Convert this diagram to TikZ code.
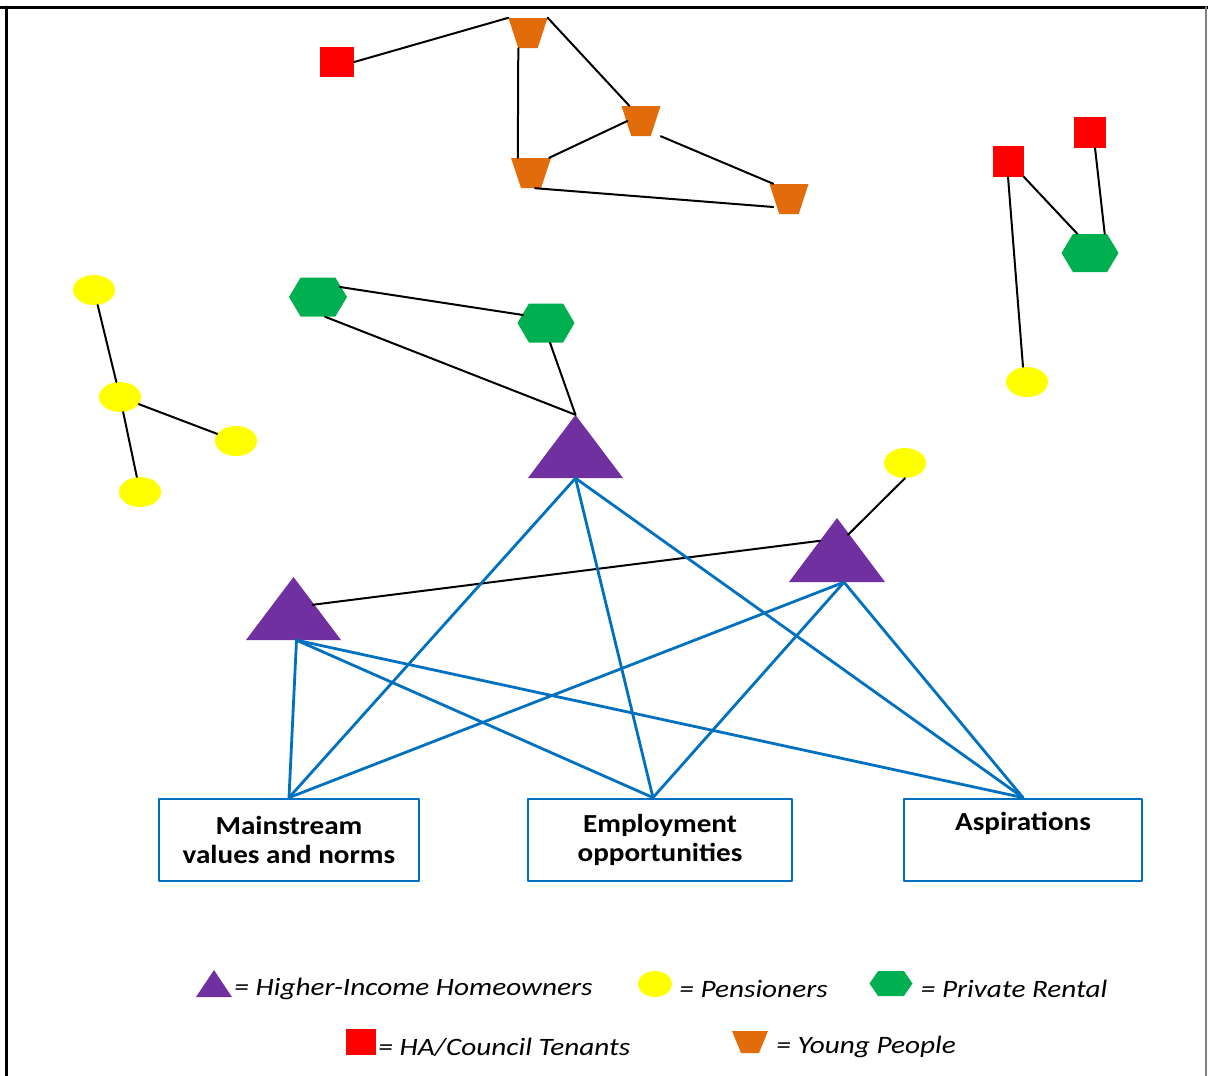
\documentclass[tikz,border=0pt]{standalone}
\usepackage{fontspec}
\setmainfont{Carlito}
\newfontfamily\boxfont[FakeStretch=1.12]{Carlito}
\newfontfamily\legfont[FakeStretch=1.17]{Carlito}
\usetikzlibrary{shapes.geometric,positioning}
\definecolor{hopurple}{HTML}{7030A0}
\definecolor{penyellow}{HTML}{FFFF00}
\definecolor{prgreen}{HTML}{00B050}
\definecolor{htred}{HTML}{FF0000}
\definecolor{yporange}{HTML}{E36C0A}
\definecolor{linkblue}{HTML}{0070C0}
\begin{document}
\begin{tikzpicture}[x=1pt,y=-1pt, line join=round, line cap=round,
	every node/.style={inner sep=0pt},
	tri/.style 2 args={minimum width=#1, minimum height=#2, path picture={
		\fill[hopurple] (path picture bounding box.north) -- (path picture bounding box.south east) -- (path picture bounding box.south west) -- cycle;}},
	yp/.style 2 args={minimum width=#1, minimum height=#2, path picture={
		\fill[yporange] (path picture bounding box.north west) -- (path picture bounding box.north east) -- ([xshift=-#1/4]path picture bounding box.south east) -- ([xshift=#1/4]path picture bounding box.south west) -- cycle;}},
	pr/.style 2 args={minimum width=#1, minimum height=#2, path picture={
		\fill[prgreen] (path picture bounding box.west) -- ([xshift=#1/5]path picture bounding box.north west) -- ([xshift=-#1/5]path picture bounding box.north east) -- (path picture bounding box.east) -- ([xshift=-#1/5]path picture bounding box.south east) -- ([xshift=#1/5]path picture bounding box.south west) -- cycle;}},
	sq/.style 2 args={fill=htred, minimum width=#1, minimum height=#2},
	pen/.style 2 args={ellipse, fill=penyellow, minimum width=#1, minimum height=#2},
	tie/.style={line width=2pt},
	link/.style={linkblue, line width=2.8pt},
	catbox/.style={draw=linkblue, line width=2.8pt, align=center, font=\boxfont\fontsize{26}{29}\selectfont\bfseries},
	legtext/.style={font=\legfont\fontsize{25}{28}\selectfont\itshape, yshift=-5pt}]
	\useasboundingbox (0,0) rectangle (1208,1076);
	% frame
	\draw[line width=3pt] (0,7) -- (1208,7);
	\draw[line width=3pt] (6,7) -- (6,1076);
	\draw[gray, line width=2pt] (1206,7) -- (1206,1076);
	% young people and tenants
	\node[sq={34}{30}] (r1) at (337,62) {};
	\node[yp={39}{30}] (y1) at (528,33) {};
	\node[yp={39}{30}] (y2) at (641,121) {};
	\node[yp={40}{30}] (y3) at (531,173) {};
	\node[yp={39}{30}] (y4) at (789,199) {};
	\draw[tie] (r1.east) -- (y1.north west);
	\draw[tie] (y1.north east) -- ([xshift=8]y2.north west);
	\draw[tie] ([xshift=10]y1.south west) -- ([xshift=7]y3.north west);
	\draw[tie] ([xshift=6]y2.west) -- ([xshift=-2]y3.north east);
	\draw[tie] (y2.south east) -- ([xshift=4]y4.north west);
	\draw[tie] ([xshift=4]y3.south) -- ([xshift=4,yshift=-8]y4.west);
	% right cluster
	\node[sq={31}{31}] (r2) at (1008,161) {};
	\node[sq={32}{31}] (r3) at (1090,132) {};
	\node[pr={57}{38}] (h3) at (1090,253) {};
	\node[pen={42}{30}] (p6) at (1027,382) {};
	\draw[tie] (r2.south east) -- ([xshift=16]h3.north west);
	\draw[tie] ([xshift=5]r3.south) -- ([xshift=-14]h3.north east);
	\draw[tie] (r2.south) -- ([xshift=-4]p6.north);
	% pensioners
	\node[pen={42}{30}] (p1) at (94,290) {};
	\node[pen={42}{30}] (p2) at (120,397) {};
	\node[pen={42}{30}] (p3) at (236,441) {};
	\node[pen={42}{30}] (p4) at (140,492) {};
	\draw[tie] (p1) -- (p2);
	\draw[tie] (p2) -- (p3);
	\draw[tie] (p2) -- (p4);
	% private rental and homeowners
	\node[pr={58}{39}] (h1) at (318,297) {};
	\node[pr={57}{39}] (h2) at (546,323) {};
	\node[tri={95}{63}] (t1) at (575.5,446.5) {};
	\node[tri={96}{64}] (t2) at (837,550) {};
	\node[tri={95}{63}] (t3) at (293.5,608.5) {};
	\node[pen={42}{30}] (p5) at (905,463) {};
	\draw[tie] ([xshift=22,yshift=10]h1.center) -- ([xshift=-23,yshift=8]h2.center);
	\draw[tie] ([xshift=7]h1.south) -- (t1.north);
	\draw[tie] ([xshift=4]h2.south) -- (t1.north);
	\draw[tie] ([xshift=11,yshift=-17]t2.north) -- (p5.south);
	\draw[tie] ([xshift=19,yshift=-28]t3.north) -- ([xshift=-17,yshift=-23]t2.north);
	% categories
	\node[catbox, minimum width=260, minimum height=82] (b1) at (289,840) {Mainstream\\values and norms};
	\node[catbox, minimum width=264, minimum height=82] (b2) at (660,840) {Employment\\opportunities};
	\node[catbox, minimum width=238, minimum height=82] (b3) at (1023,840) {Aspirations\\\strut};
	\foreach \t/\s in {t1/0, t2/7, t3/3}{
		\draw[link] ([xshift=\s]\t.south) -- (b1.north);
		\draw[link] ([xshift=\s]\t.south) -- ([xshift=-7]b2.north);
		\draw[link] ([xshift=\s]\t.south) -- (b3.north);
	}
	% legend
	\node[tri={36}{27}] (lt) at (214,983.5) {};
	\node[legtext, right=2pt of lt] (ltx) {= Higher-Income Homeowners};
	\node[pen={34}{26}] (lp) at (655,984) {};
	\node[legtext, right=7pt of lp] (lpx) {= Pensioners};
	\node[pr={43}{25}] (lh) at (891,983.5) {};
	\node[legtext, right=8pt of lh] (lhx) {= Private Rental};
	\node[sq={30}{26}] (lr) at (361,1042) {};
	\node[legtext, right=2pt of lr] (lrx) {= HA/Council Tenants};
	\node[yp={36}{22}] (ly) at (750,1042) {};
	\node[legtext, right=8pt of ly] (lyx) {= Young People};
\end{tikzpicture}
\end{document}
